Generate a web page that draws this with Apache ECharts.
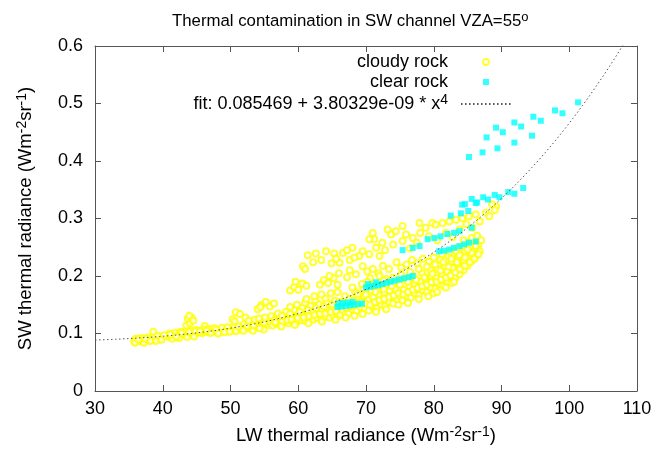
<!DOCTYPE html>
<html><head><meta charset="utf-8">
<script src="https://cdn.jsdelivr.net/npm/echarts@6/dist/echarts.min.js"></script>
<style>html,body{margin:0;padding:0;background:#fff}#c{width:658px;height:451px}</style>
</head><body><div id="c"></div>
<script>
const titleText = 'Thermal contamination in SW channel VZA=55';
const xName = 'LW thermal radiance';
const yName = 'SW thermal radiance';
const xMin = 30, xMax = 110, xStep = 10;
const yMin = 0, yMax = 0.6, yStep = 0.1;
const fitA = 0.085469, fitB = 3.80329e-09;
const fitLabel = 'fit: 0.085469 + 3.80329e-09 * x';

const cloudyRock = [
[35.8,0.086],[36.2,0.088],[36.6,0.087],[37.0,0.089],[37.3,0.086],[37.6,0.090],[38.0,0.088],[38.3,0.091],[38.7,0.089],[39.0,0.092],[39.4,0.090],[39.7,0.093],[36.0,0.091],[36.8,0.092],[37.8,0.093],[38.6,0.094],[39.2,0.096],[38.6,0.103],[35.9,0.084],[37.2,0.084],
[36.4,0.090],[37.4,0.091],[38.2,0.087],[39.0,0.087],[39.8,0.089],
[40.9,0.094],[41.3,0.096],[41.7,0.095],[42.1,0.098],[42.5,0.097],[42.9,0.099],[43.3,0.098],[43.7,0.100],[44.1,0.099],[44.5,0.101],[44.9,0.100],[45.3,0.102],[41.0,0.100],[41.8,0.101],[42.6,0.103],[43.4,0.104],[44.2,0.105],[45.0,0.106],[41.4,0.091],[42.4,0.092],[43.6,0.094],[44.6,0.095],
[43.5,0.114],[44.0,0.118],[43.7,0.126],[44.3,0.127],[43.9,0.131],[44.5,0.122],[46.2,0.113],
[45.8,0.101],[46.3,0.103],[46.8,0.102],[47.3,0.104],[47.8,0.105],[48.4,0.103],[48.9,0.106],[49.4,0.105],[49.9,0.107],[50.4,0.106],[50.9,0.108],[46.0,0.107],[46.9,0.108],[47.6,0.109],[48.7,0.110],[49.6,0.111],[50.6,0.112],
[40.2,0.097],[41.1,0.098],[42.0,0.095],[42.8,0.101],[43.9,0.102],[44.8,0.104],[45.5,0.104],[46.5,0.105],[47.1,0.101],[47.9,0.107],[48.2,0.100],[49.1,0.102],[49.9,0.103],[50.8,0.104],
[50.3,0.125],[50.8,0.137],[51.4,0.134],[52.2,0.128],[50.6,0.121],
[51.6,0.108],[52.1,0.110],[52.6,0.109],[53.1,0.112],[53.6,0.111],[54.1,0.114],[54.6,0.113],[55.1,0.116],[55.6,0.115],[52.0,0.116],[52.9,0.118],[53.8,0.119],[54.7,0.121],[55.5,0.123],[53.3,0.105],[54.9,0.107],
[51.2,0.112],[51.9,0.105],[52.5,0.113],[53.4,0.115],[54.3,0.109],[55.0,0.119],[55.9,0.119],[52.7,0.122],[53.6,0.124],[54.2,0.126],[55.1,0.128],[56.0,0.130],
[54.0,0.142],[54.6,0.150],[55.2,0.155],[55.8,0.147],[56.4,0.152],[54.4,0.146],
[56.2,0.114],[56.8,0.117],[57.4,0.116],[58.0,0.119],[58.6,0.118],[59.2,0.121],[59.8,0.120],[60.4,0.123],[61.0,0.122],[61.6,0.125],[62.2,0.124],[62.8,0.127],[63.4,0.126],[64.0,0.129],[64.6,0.128],[65.2,0.131],[65.8,0.130],
[56.5,0.123],[57.2,0.126],[57.9,0.128],[58.6,0.127],[59.3,0.131],[60.0,0.133],[60.7,0.132],[61.4,0.136],[62.1,0.138],[62.8,0.137],[63.5,0.141],[64.2,0.143],[64.9,0.142],[65.6,0.146],
[57.0,0.135],[58.2,0.138],[59.4,0.141],[60.6,0.145],[61.8,0.148],[63.0,0.151],[64.2,0.154],[65.4,0.157],[58.8,0.146],[61.0,0.153],[62.5,0.158],[64.0,0.161],
[56.6,0.119],[57.6,0.121],[58.4,0.123],[59.0,0.125],[59.9,0.127],[60.8,0.128],[61.6,0.130],[62.4,0.132],[63.2,0.134],[64.0,0.135],[64.8,0.137],[65.6,0.139],[57.6,0.131],[58.8,0.134],[60.2,0.138],[61.4,0.141],[62.6,0.144],[63.8,0.147],[65.0,0.150],[66.0,0.155],[59.8,0.150],[61.2,0.160],[62.4,0.165],[63.4,0.168],[64.8,0.170],[65.8,0.172],[57.5,0.112],[59.5,0.115],[61.5,0.118],[63.5,0.121],[65.5,0.124],
[58.8,0.175],[59.4,0.181],[60.0,0.176],[60.6,0.187],[61.2,0.183],[59.6,0.190],[63.2,0.185],[63.8,0.193],[64.4,0.188],[65.2,0.196],[65.8,0.185],
[60.7,0.217],[61.4,0.236],[62.2,0.224],[62.6,0.239],[63.4,0.228],[64.1,0.243],[64.9,0.222],[65.3,0.239],[66.1,0.223],[66.6,0.240],[67.6,0.228],[68.0,0.249],[69.0,0.235],[69.5,0.243],[70.5,0.238],[72.0,0.235],[61.0,0.212],[67.2,0.245],[68.3,0.232],[65.6,0.230],
[64.6,0.200],[66.0,0.205],[67.2,0.198],[67.6,0.210],[68.5,0.203],[69.5,0.217],[70.2,0.208],[71.0,0.212],[71.8,0.205],[72.5,0.218],[73.4,0.212],[74.5,0.224],[75.2,0.215],[76.0,0.220],[76.8,0.228],[77.6,0.222],[78.4,0.230],[79.3,0.225],[70.6,0.196],[72.0,0.200],[73.0,0.195],
[71.0,0.275],[71.2,0.264],[70.5,0.264],[73.2,0.281],[73.7,0.272],[74.4,0.278],[75.4,0.287],[75.9,0.272],[77.9,0.292],[78.8,0.284],[79.8,0.292],[80.3,0.289],[81.3,0.292],[82.3,0.295],[83.3,0.298],[84.2,0.301],[85.2,0.304],[86.2,0.307],[87.7,0.310],[89.2,0.321],[88.2,0.304],[85.7,0.284],[83.8,0.281],[81.8,0.275],[79.3,0.269],[76.9,0.266],[75.4,0.261],[72.4,0.258],[71.5,0.249],[74.0,0.255],[77.5,0.258],[80.5,0.262],[82.8,0.268],[86.8,0.295],[89.0,0.315],[88.6,0.325],[84.8,0.290],[78.0,0.275],[72.8,0.245],[76.5,0.248],
[66.2,0.132],[66.8,0.138],[67.4,0.135],[68.0,0.142],[68.6,0.139],[69.2,0.146],[69.8,0.143],[66.5,0.150],[67.3,0.155],[68.1,0.158],[68.9,0.162],[69.7,0.165],[66.9,0.165],[68.4,0.172],[69.6,0.178],[67.0,0.128],[68.3,0.131],[69.5,0.134],
[70.4,0.140],[71.0,0.147],[71.6,0.144],[72.2,0.151],[72.8,0.148],[73.4,0.155],[74.0,0.152],[74.6,0.159],[70.3,0.158],[71.1,0.163],[71.9,0.167],[72.7,0.171],[73.5,0.175],[74.3,0.178],[70.8,0.175],[72.0,0.182],[73.2,0.185],[74.5,0.190],[71.5,0.138],[73.0,0.142],[74.8,0.150],[75.0,0.165],
[75.4,0.158],[76.0,0.165],[76.6,0.162],[77.2,0.170],[77.8,0.167],[78.4,0.175],[79.0,0.172],[79.6,0.180],[75.6,0.176],[76.4,0.182],[77.2,0.186],[78.0,0.190],[78.8,0.195],[79.6,0.199],[75.8,0.195],[77.0,0.200],[78.3,0.205],[79.5,0.210],[76.2,0.153],[77.8,0.160],[79.2,0.165],[80.0,0.170],
[80.2,0.178],[80.8,0.186],[81.4,0.183],[82.0,0.191],[82.6,0.188],[83.2,0.197],[83.8,0.203],[84.4,0.210],[85.0,0.218],[85.6,0.226],[86.2,0.234],[80.4,0.196],[81.2,0.203],[82.0,0.208],[82.8,0.214],[83.6,0.220],[84.4,0.228],[85.2,0.240],[86.0,0.248],[86.6,0.255],[80.6,0.212],[81.6,0.218],[82.6,0.225],[83.6,0.233],[84.6,0.243],[85.4,0.252],[81.0,0.228],[82.2,0.235],[83.4,0.242],[84.8,0.258],[80.5,0.172],[81.8,0.180],[83.0,0.190],[85.8,0.262],[87.0,0.262],[86.8,0.243],
[66.5,0.142],[67.1,0.145],[67.8,0.148],[68.5,0.150],[69.2,0.155],[69.9,0.152],[70.6,0.150],[71.3,0.155],[72.0,0.158],[72.7,0.160],[73.4,0.163],[74.1,0.166],[74.8,0.170],[75.5,0.168],[76.2,0.172],[76.9,0.176],[77.6,0.179],[78.3,0.182],[79.0,0.185],[79.7,0.189],[80.4,0.190],[81.1,0.194],[81.8,0.197],[82.5,0.201],[83.2,0.206],[83.9,0.212],[84.6,0.218],[85.3,0.224],[86.0,0.230],[86.6,0.238],
[67.5,0.160],[68.8,0.168],[70.0,0.168],[71.4,0.172],[72.6,0.177],[73.8,0.182],[75.0,0.185],[76.2,0.190],[77.4,0.193],[78.6,0.198],[79.8,0.204],[81.0,0.209],[82.2,0.216],[83.4,0.224],[84.6,0.232],[85.6,0.240],
[71.0,0.185],[72.6,0.192],[74.0,0.197],[75.2,0.202],[76.5,0.207],[77.8,0.212],[79.0,0.216],[80.2,0.220],[81.4,0.224],[82.6,0.230],[83.8,0.236],[85.0,0.246],[86.2,0.252],
[68.0,0.180],[69.4,0.186],[70.2,0.190],[80.0,0.232],[81.2,0.238],[82.4,0.242],[83.6,0.250],[84.4,0.262],[85.6,0.266],[86.4,0.270]
];

const clearRock = [
[65.8,0.146],[66.4,0.147],[67.0,0.148],[67.6,0.149],[68.2,0.150],[68.8,0.151],[69.4,0.152],[65.9,0.152],[66.6,0.153],[67.3,0.154],[68.0,0.155],
[70.0,0.180],[70.6,0.181],[71.2,0.183],[71.8,0.184],[72.4,0.186],[73.0,0.188],[73.6,0.190],[74.2,0.192],[74.9,0.194],[75.6,0.196],[76.3,0.198],[76.9,0.200],[70.3,0.186],[71.5,0.189],
[80.8,0.243],[81.5,0.244],[82.3,0.246],[83.0,0.249],[83.8,0.252],[84.5,0.255],[85.2,0.258],[86.2,0.260],
[75.4,0.245],[76.9,0.249],[77.9,0.252],[79.1,0.264],[80.1,0.266],[81.0,0.269],[82.0,0.273],[83.0,0.275],[83.8,0.278],[85.6,0.284],
[82.5,0.305],[84.0,0.309],[85.1,0.313],[84.2,0.324],[86.2,0.327],[84.6,0.325],[85.6,0.334],[86.4,0.328],[87.3,0.337],[88.0,0.333],[89.0,0.341],[89.7,0.337],[91.0,0.346],[91.9,0.343],[93.2,0.353],
[85.2,0.407],[87.2,0.415],[89.4,0.422],[91.9,0.432],[87.8,0.441],[94.5,0.444],[90.2,0.450],[89.2,0.458],[92.9,0.460],[91.9,0.467],[95.8,0.470],[94.7,0.477],[99.0,0.483],[97.9,0.488],[101.3,0.502]
];

// fit function curve f(x) = a + b*x^4 (coefficients from the legend), sampled across the axis range
const fitCurve = [];
for (let x = xMin; x <= 108.01; x += 0.5) fitCurve.push([x, fitA + fitB * Math.pow(x, 4)]);

const FONT = 'Liberation Sans';
const FS = 18;
const FN = 18.5;
const supRich = {fontSize: 14, fontFamily: FONT, color: '#000', padding: [0, 0, 8, 0]};
const unitsRich = '{b|(Wm}{s|-2}{b|sr}{s|-1}{b|)}';

const chart = echarts.init(document.getElementById('c'), null, {renderer: 'canvas'});
const axisLineStyle = {color: '#555', width: 1};
chart.setOption({
  animation: false,
  backgroundColor: '#fff',
  title: {
    text: '{b|' + titleText + '}{s|o}',
    left: 167, top: 6,
    textStyle: {fontWeight: 'normal', rich: {b: {fontSize: 16.8, fontFamily: FONT, color: '#000', fontWeight: 'normal'}, s: {fontSize: 13, fontFamily: FONT, color: '#000', padding: [0,0,8,0]}}}
  },
  grid: {left: 95, right: 21, top: 46, bottom: 60, containLabel: false},
  legend: {
    orient: 'vertical', align: 'right', right: 146, top: 53, padding: 0, itemGap: 2,
    itemWidth: 50, itemHeight: 6,
    data: [
      {name: 'cloudy rock'},
      {name: 'clear rock', icon: 'path://M0,0H10V10H0Z'},
      {name: 'fit', itemStyle: {opacity: 0}}
    ],
    formatter: function (n) { return n === 'fit' ? '{b|' + fitLabel + '}{s|4}' : '{b|' + n + '}'; },
    textStyle: {padding: [0, 8, 0, 0], fontSize: FS, fontFamily: FONT, color: '#000',
      rich: {b: {fontSize: FS, fontFamily: FONT, color: '#000', lineHeight: 19}, s: {fontSize: 14, fontFamily: FONT, color: '#000', lineHeight: 11, padding: [0,0,8,0]}}}
  },
  xAxis: [{
    type: 'value', min: xMin, max: xMax, interval: xStep, position: 'bottom',
    axisLine: {show: true, onZero: false, lineStyle: axisLineStyle},
    axisTick: {show: true, inside: true, length: 6, lineStyle: axisLineStyle},
    axisLabel: {color: '#000', fontSize: FS, fontFamily: FONT, margin: 9},
    splitLine: {show: false},
    name: '{b|' + xName + ' }' + unitsRich, nameLocation: 'middle', nameGap: 34,
    nameTextStyle: {rich: {b: {fontSize: FN, fontFamily: FONT, color: '#000'}, s: supRich}}
  }, {
    type: 'value', min: xMin, max: xMax, interval: xStep, position: 'top',
    axisLine: {show: true, onZero: false, lineStyle: axisLineStyle},
    axisTick: {show: true, inside: true, length: 6, lineStyle: axisLineStyle},
    axisLabel: {show: false}, splitLine: {show: false}
  }],
  yAxis: [{
    type: 'value', min: yMin, max: yMax, interval: yStep, position: 'left',
    axisLine: {show: true, onZero: false, lineStyle: axisLineStyle},
    axisTick: {show: true, inside: true, length: 6, lineStyle: axisLineStyle},
    axisLabel: {color: '#000', fontSize: FS, fontFamily: FONT, margin: 12},
    splitLine: {show: false},
    name: '{b|' + yName + ' }' + unitsRich, nameLocation: 'middle', nameGap: 58,
    nameTextStyle: {rich: {b: {fontSize: FN, fontFamily: FONT, color: '#000'}, s: supRich}}
  }, {
    type: 'value', min: yMin, max: yMax, interval: yStep, position: 'right',
    axisLine: {show: true, onZero: false, lineStyle: axisLineStyle},
    axisTick: {show: true, inside: true, length: 6, lineStyle: axisLineStyle},
    axisLabel: {show: false}, splitLine: {show: false}
  }],
  series: [{
    name: 'cloudy rock', type: 'scatter', data: cloudyRock, symbol: 'emptyCircle', symbolSize: 6,
    itemStyle: {color: '#ffff00', borderColor: '#ffff00', borderWidth: 1}
  }, {
    name: 'clear rock', type: 'scatter', data: clearRock, symbol: 'rect', symbolSize: 6,
    itemStyle: {color: '#00ffff'}
  }, {
    name: 'fit', type: 'line', data: fitCurve, showSymbol: false, symbol: 'none', smooth: false, clip: true,
    lineStyle: {color: '#555', width: 1, type: [1.5, 2.5]}, itemStyle: {color: '#555'}, z: 5
  }]
});
</script></body></html>
